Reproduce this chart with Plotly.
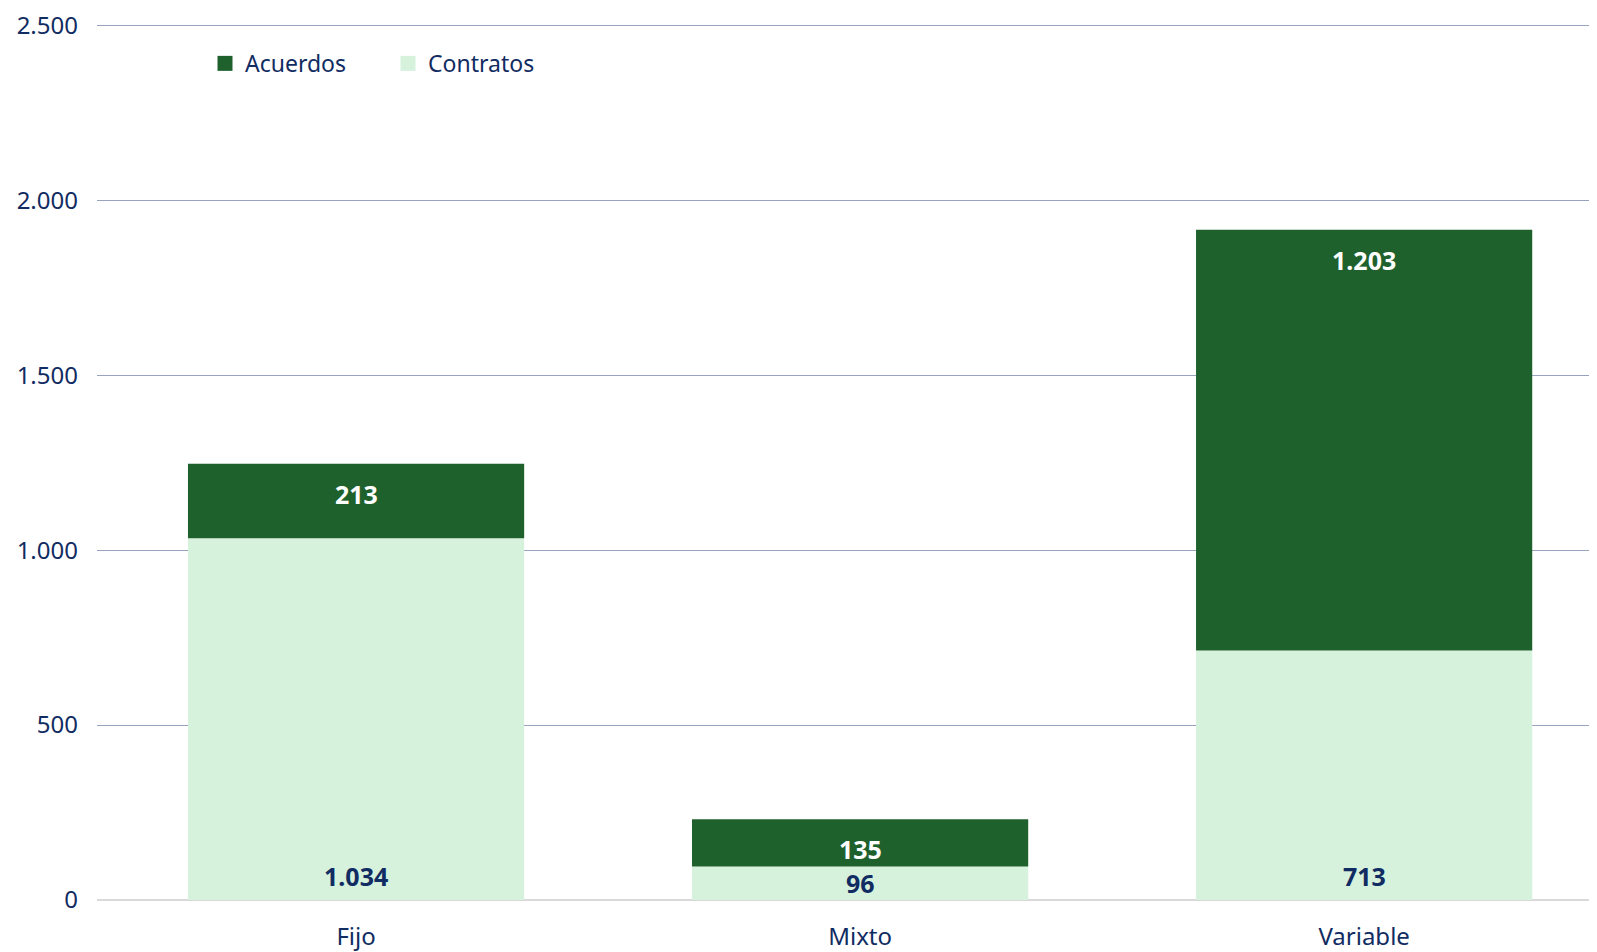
import plotly.graph_objects as go

categories = ["Fijo", "Mixto", "Variable"]
contratos = [1034, 96, 713]
acuerdos = [213, 135, 1203]
y_ticks = [0, 500, 1000, 1500, 2000, 2500]

NAVY = "#112c62"
DARK = "#1f612d"
LIGHT = "#d6f1dc"
FONT = "Noto Sans"

def fmt(v):
    return f"{v:,}".replace(",", ".")

fig = go.Figure()
fig.add_trace(go.Bar(name="Contratos", x=categories, y=contratos, marker_color=LIGHT,
                     marker_line_width=0, width=0.667, showlegend=False))
fig.add_trace(go.Bar(name="Acuerdos", x=categories, y=acuerdos, base=contratos, marker_color=DARK,
                     marker_line_width=0, width=0.667, showlegend=False))
# legend entries
for name, col in [("Acuerdos", DARK), ("Contratos", LIGHT)]:
    fig.add_trace(go.Scatter(name=name, x=[None], y=[None], mode="markers",
                             marker=dict(symbol="square", size=15, color=col)))

H = 944
top, bottom = 11, 52
YMAX = 2504
pxper = (H - top - bottom) / YMAX

for c, cv, av in zip(categories, contratos, acuerdos):
    fig.add_annotation(x=c, y=cv + av, text=f"<b>{fmt(av)}</b>", showarrow=False,
                       yshift=-30, font=dict(color="white", size=25, family=FONT))
    sh = min(24, cv * pxper / 2)
    fig.add_annotation(x=c, y=0, text=f"<b>{fmt(cv)}</b>", showarrow=False,
                       yshift=sh, font=dict(color=NAVY, size=25, family=FONT))

fig.update_layout(
    width=1589, height=H, barmode="overlay",
    margin=dict(l=89, r=0, t=top, b=bottom),
    plot_bgcolor="white", paper_bgcolor="white",
    separators=",.",
    font=dict(family=FONT, color=NAVY, size=24),
    legend=dict(orientation="h", x=0.072, y=0.955, xanchor="left", yanchor="middle",
                font=dict(size=23, color=NAVY, family=FONT),
                entrywidth=138, bgcolor="rgba(0,0,0,0)"),
    xaxis=dict(range=[-0.514, 2.462], showgrid=False, ticks="", showline=False,
               ticklabelstandoff=20, tickfont=dict(size=24, color=NAVY)),
    yaxis=dict(range=[0, YMAX], tickvals=y_ticks, ticktext=[fmt(v) for v in y_ticks],
               showgrid=True, gridcolor="#97a3bf", gridwidth=1,
               zeroline=True, zerolinecolor="#d9d9d9", zerolinewidth=2,
               ticks="", ticklabelstandoff=18, ticklabeloverflow="allow",
               tickfont=dict(size=24, color=NAVY)),
)
fig.write_html("out.html")
